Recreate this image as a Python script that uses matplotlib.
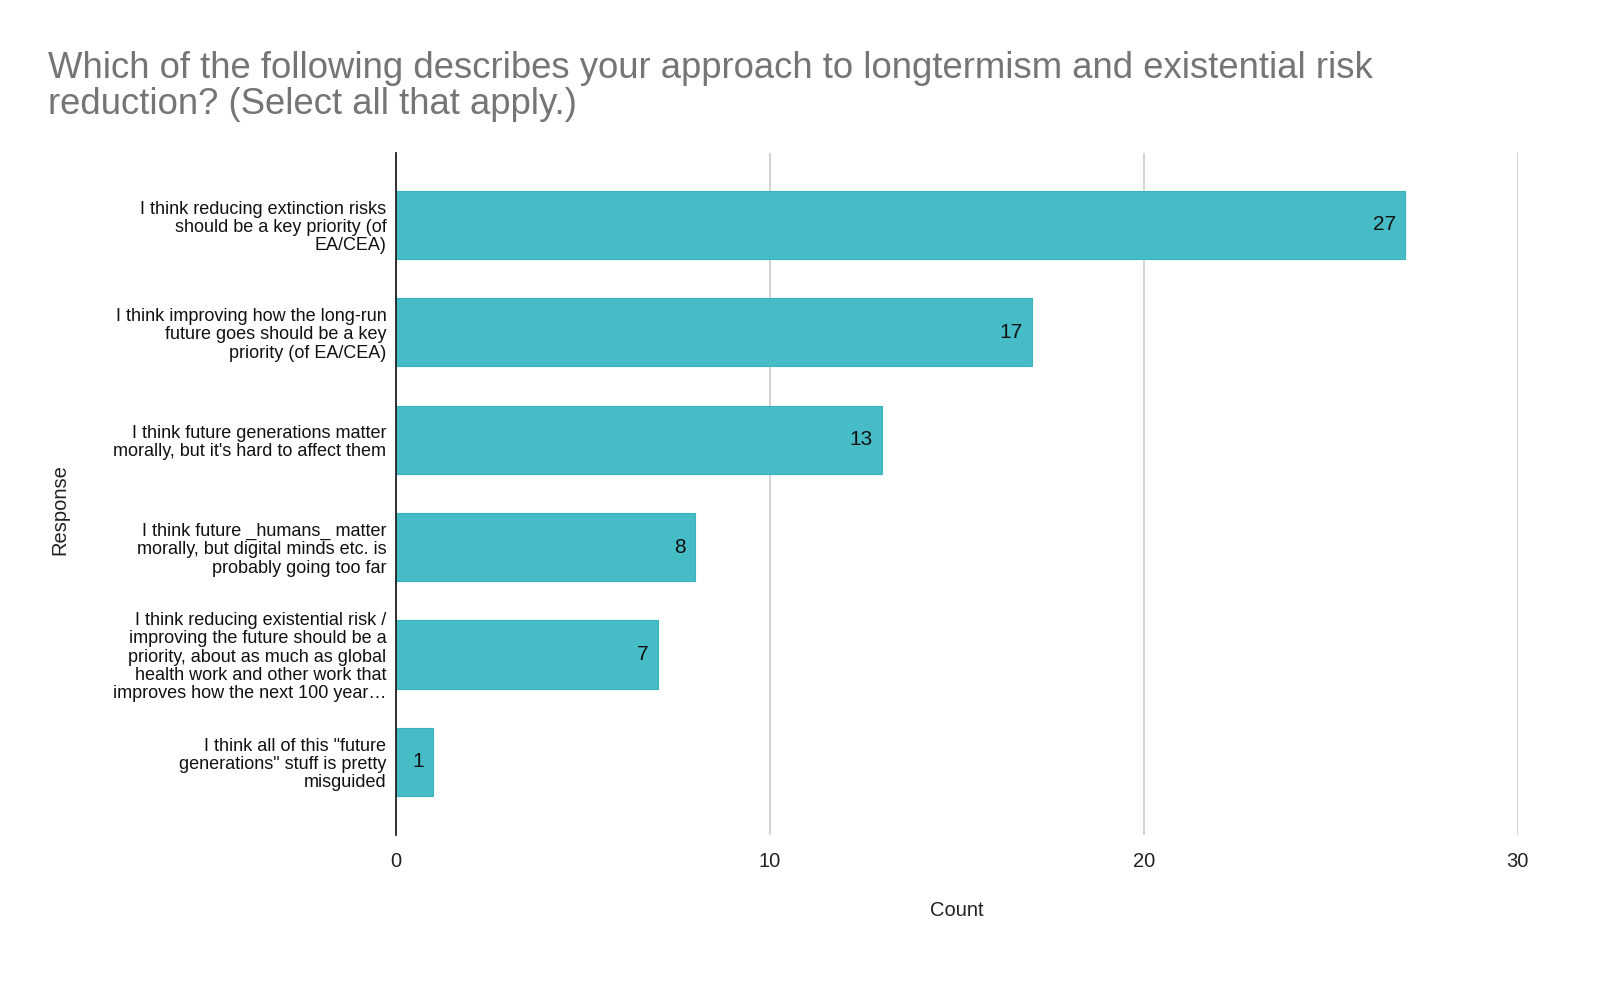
import matplotlib
matplotlib.use("Agg")
import matplotlib.pyplot as plt

plt.rcParams['font.family'] = ['Liberation Sans', 'DejaVu Sans']

categories = [
    "I think reducing extinction risks\nshould be a key priority (of\nEA/CEA)",
    "I think improving how the long-run\nfuture goes should be a key\npriority (of EA/CEA)",
    "I think future generations matter\nmorally, but it's hard to affect them",
    "I think future _humans_ matter\nmorally, but digital minds etc. is\nprobably going too far",
    "I think reducing existential risk /\nimproving the future should be a\npriority, about as much as global\nhealth work and other work that\nimproves how the next 100 year\u2026",
    "I think all of this \"future\ngenerations\" stuff is pretty\nmisguided",
]
counts = [27, 17, 13, 8, 7, 1]
xticks = [0, 10, 20, 30]
title = "Which of the following describes your approach to longtermism and existential risk\nreduction? (Select all that apply.)"

fig = plt.figure(figsize=(16, 9.9), dpi=100)
ax = fig.add_axes([0.2475, 0.1566, 0.949 - 0.2475, 0.8455 - 0.1566])

ypos = list(range(len(categories)))
bars = ax.barh(ypos, counts, height=0.635, color='#46bdc6', edgecolor='#3bb3bc', linewidth=0.8, zorder=3)
for y, v in zip(ypos, counts):
    ax.text(v - 0.25, y, str(v), ha='right', va='center', fontsize=15, color='#111111', zorder=4)

ax.set_ylim(5.68, -0.67)
ax.set_xlim(0, 30.02)
ax.set_xticks(xticks)
ax.set_xticklabels([str(t) for t in xticks], fontsize=14.5, color='#222222')
ax.set_yticks(ypos)
ax.set_yticklabels(categories, fontsize=13, color='#111111', linespacing=1.1)
ax.tick_params(axis='y', length=0, pad=7)
ax.tick_params(axis='x', length=0, pad=12)
ax.grid(axis='x', color='#cccccc', linewidth=1.2, zorder=0)
for s in ['top', 'right', 'bottom']:
    ax.spines[s].set_visible(False)
ax.spines['left'].set_color('#222222')
ax.spines['left'].set_linewidth(1.3)
ax.spines['left'].set_zorder(5)

ax.set_xlabel("Count", fontsize=14.5, color='#222222', labelpad=22)
fig.text(60 / 1600, 1 - 510 / 990, "Response", rotation=90, ha='center', va='center', fontsize=14.5, color='#222222')

fig.text(48 / 1600, 1 - 51 / 990, title, ha='left', va='top', fontsize=26.3, color='#757575', linespacing=1.04)

fig.savefig("out.png", dpi=100, facecolor='white')
